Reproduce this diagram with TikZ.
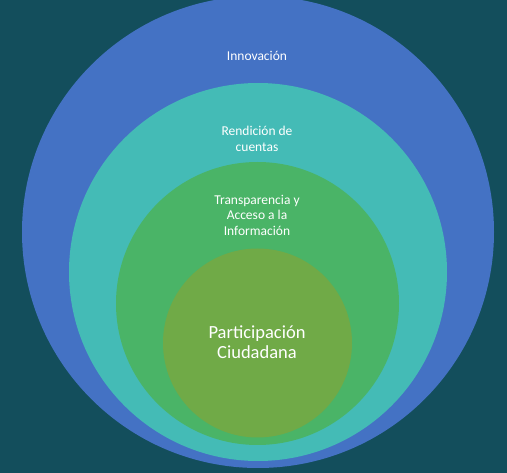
\documentclass[tikz,border=0pt]{standalone}
\usepackage{fontspec}
\setmainfont{Carlito}
\definecolor{fondo}{HTML}{134E5C}
\definecolor{azul}{HTML}{4472C4}
\definecolor{turquesa}{HTML}{44BBB6}
\definecolor{verde}{HTML}{4AB467}
\definecolor{oliva}{HTML}{70AA47}
\begin{document}
\begin{tikzpicture}[x=1pt,y=-1pt,
        ring/.style={circle,inner sep=0pt,draw=none,minimum size=#1},
        lbl/.style={text=white,align=center,inner sep=0pt,font=\fontsize{13.5}{15.5}\selectfont},
        big/.style={text=white,align=center,inner sep=0pt,font=\fontsize{18.5}{19.5}\selectfont}
      ]
      \useasboundingbox (0,0) rectangle (507,473);
      \clip (0,0) rectangle (507,473);
      \fill[fondo] (0,0) rectangle (507,473);
      \node[ring=472pt,fill=azul] (innov) at (258,232) {};
      \node[ring=378pt,fill=turquesa] (rend) at (258,272) {};
      \node[ring=283pt,fill=verde] (transp) at (257.5,303.5) {};
      \node[ring=189pt,fill=oliva] (partic) at (257.5,343) {};
      \node[lbl] (innovtxt) at (257,56) {Innovación};
      \node[lbl] (rendtxt) at (257,139) {Rendición de\\cuentas};
      \node[lbl] (transptxt) at (257,215) {Transparencia y\\Acceso a la\\Información};
      \node[big] (partictxt) at (257,342) {Participación\\Ciudadana};
    \end{tikzpicture}
\end{document}
